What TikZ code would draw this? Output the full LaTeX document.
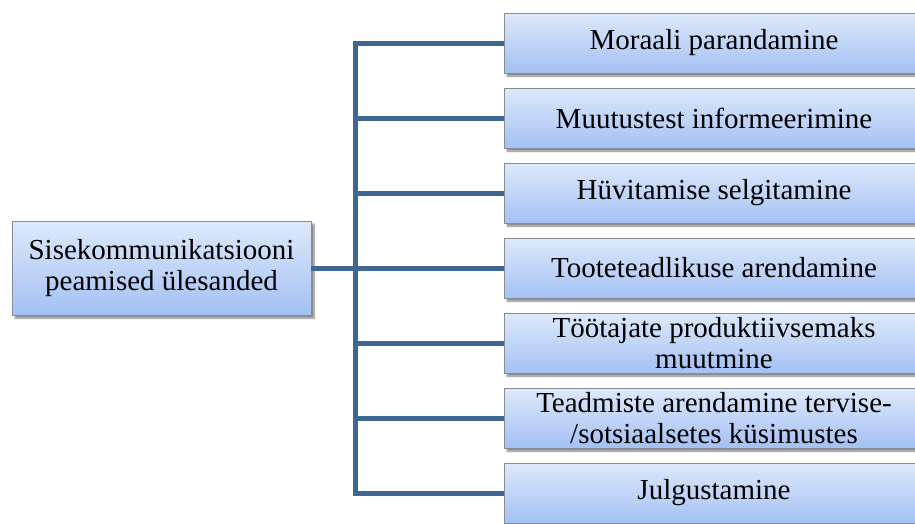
\documentclass[tikz,border=0pt]{standalone}
\usepackage{fontspec}
\setmainfont{Liberation Serif}
\newfontfamily\labelfont{Liberation Serif}
\usetikzlibrary{shadows.blur}
\definecolor{boxtop}{RGB}{222,233,252}
\definecolor{boxbottom}{RGB}{163,193,244}
\definecolor{boxedge}{RGB}{135,140,150}
\definecolor{linkblue}{RGB}{62,103,150}
\tikzset{
  taskbox/.style={
    draw=boxedge, line width=0.8pt,
    top color=boxtop, bottom color=boxbottom,
    blur shadow={shadow xshift=3pt, shadow yshift=-3pt, shadow blur steps=6, shadow opacity=50},
    align=center, inner sep=2pt,
    font=\labelfont\fontsize{29}{31}\selectfont
  },
  itembox/.style={taskbox, minimum width=420pt, minimum height=60pt},
  link/.style={draw=linkblue, line width=5pt},
  trunkline/.style={link, line cap=rect}
}
\begin{document}
\begin{tikzpicture}[x=1pt,y=-1pt]
\useasboundingbox (0,0) rectangle (915,523);

% root box
\node[taskbox, minimum width=299pt, minimum height=94pt] (root) at (161.5,268)
  {Sisekommunikatsiooni\\peamised ülesanded};

% task boxes
\node[itembox] (t1) at (714,43)  {Moraali parandamine};
\node[itembox] (t2) at (714,118) {Muutustest informeerimine};
\node[itembox] (t3) at (714,193) {Hüvitamise selgitamine};
\node[itembox] (t4) at (714,268) {Tooteteadlikuse arendamine};
\node[itembox] (t5) at (714,343) {Töötajate produktiivsemaks\\muutmine};
\node[itembox] (t6) at (714,418) {Teadmiste arendamine tervise-\\/sotsiaalsetes küsimustes};
\node[itembox] (t7) at (714,493) {Julgustamine};

% tree connectors
\coordinate (j) at (355,268);
\draw[trunkline] (j |- t1.west) -- (j |- t7.west);
\draw[link] (root.east) -- (root.east -| j);
\foreach \t in {t1,t2,t3,t4,t5,t6,t7}
  \draw[link] (j |- \t.west) -- (\t.west);
\end{tikzpicture}
\end{document}
